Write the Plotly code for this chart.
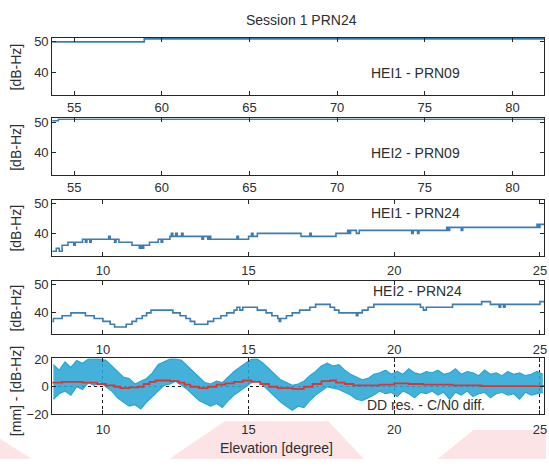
import plotly.graph_objects as go

W, H = 549, 467

# ---- data -------------------------------------------------------------
# C/N0 step records, [dB-Hz]; each level holds until the next change point
hei1_prn09_x = [53.75, 59.0, 81.8]
hei1_prn09_y = [50, 51, 51]

hei2_prn09_x = [53.75, 54.1, 81.8]
hei2_prn09_y = [50.5, 51, 51]

hei1_prn24_x = [8.26, 8.4, 8.5, 8.6, 8.8, 9.0, 9.05, 9.3, 9.4, 9.45, 9.55, 9.6,
                10.2, 10.25, 10.4, 10.45, 10.55, 11.0, 11.25, 11.3, 11.35, 11.4,
                11.6, 11.9, 12.0, 12.05, 12.3, 12.35, 12.4, 12.5, 12.55, 12.7,
                12.75, 13.4, 13.45, 13.6, 13.65, 13.7, 14.6, 14.65, 15.0, 15.1,
                15.15, 15.3, 16.8, 17.1, 17.15, 18.0, 18.4, 18.45, 18.5, 18.7,
                18.8, 20.6, 20.65, 20.8, 20.85, 21.8, 21.85, 21.9, 22.3, 22.35,
                24.9, 24.95, 25.0, 25.14]
hei1_prn24_y = [34, 35, 34, 36, 37, 36, 37, 38, 37, 38, 37, 38,
                39, 38, 37, 38, 37, 36, 35, 36, 35, 36,
                37, 38, 37, 38, 39, 40, 39, 40, 39, 40,
                39, 38, 39, 38, 39, 38, 39, 38, 39, 40,
                39, 40, 39, 40, 39, 40, 41, 40, 41, 40,
                41, 40, 41, 40, 41, 42, 41, 42, 41, 42,
                43, 42, 43, 43]

hei2_prn24_x = [8.26, 8.3, 8.6, 8.9, 9.4, 9.7, 10.0, 10.25, 10.4, 10.8, 11.0,
                11.15, 11.35, 11.5, 11.65, 12.4, 12.65, 12.85, 13.0, 13.15, 13.6,
                13.8, 14.05, 14.25, 14.5, 14.6, 14.7, 14.8, 15.3, 15.6, 15.8, 16.0,
                16.05, 16.1, 16.3, 16.5, 16.75, 17.1, 17.3, 17.8, 17.95, 18.1,
                18.7, 18.75, 18.9, 19.1, 19.3, 20.9, 21.0, 21.1, 22.0, 23.0, 23.3,
                23.6, 23.65, 23.75, 23.8, 25.0, 25.14]
hei2_prn24_y = [37, 38, 39, 40, 39, 38, 37, 36, 35, 36, 37,
                38, 39, 40, 41, 40, 39, 38, 37, 36, 37,
                38, 39, 40, 41, 42, 41, 42, 41, 40, 39, 38,
                37, 38, 39, 40, 41, 42, 43, 42, 41, 40,
                39, 40, 41, 42, 43, 42, 41, 42, 43, 44, 43,
                42, 43, 42, 43, 44, 44]

# double-difference residual spread [mm]: upper / lower extent per elevation
dd_x = [8.3, 8.5, 8.7, 8.9, 9.1, 9.3, 9.5, 9.7, 9.9, 10.1, 10.3, 10.5, 10.7,
        10.9, 11.1, 11.3, 11.5, 11.7, 11.9, 12.1, 12.3, 12.5, 12.7, 12.9, 13.1,
        13.3, 13.5, 13.7, 13.9, 14.1, 14.3, 14.5, 14.7, 14.9, 15.1, 15.3, 15.5,
        15.7, 15.9, 16.1, 16.3, 16.5, 16.7, 16.9, 17.1, 17.3, 17.5, 17.7, 17.9,
        18.1, 18.3, 18.5, 18.7, 18.9, 19.1, 19.3, 19.5, 19.7, 19.9, 20.1, 20.3,
        20.5, 20.7, 20.9, 21.1, 21.3, 21.5, 21.7, 21.9, 22.1, 22.3, 22.5, 22.7,
        22.9, 23.1, 23.3, 23.5, 23.7, 23.9, 24.1, 24.3, 24.5, 24.7, 24.9, 25.1]
dd_hi = [16, 12, 18, 14, 19, 17, 20, 20, 20, 19, 15, 11, 7,
         6, 2, 4, 6, 10, 16, 18, 20, 20, 19, 15, 11,
         7, 3, 2, 4, 3, 7, 11, 14, 17, 20, 20, 17,
         13, 9, 5, 3, 1, 2, 4, 8, 11, 15, 17, 15,
         16, 12, 9, 7, 5, 6, 9, 10, 12, 9, 11, 9,
         13, 10, 9, 11, 10, 12, 9, 10, 13, 9, 11, 10,
         8, 12, 9, 10, 8, 11, 9, 10, 8, 9, 11, 9]
dd_lo = [-9, -5, -3, -6, 0, -2, 3, 1, 4, 0, -3, -8, -11,
         -14, -13, -16, -11, -7, -3, 1, 2, 4, 1, -2, -6,
         -10, -12, -14, -12, -15, -10, -6, -3, 0, 3, 5, 1,
         -3, -7, -11, -14, -17, -14, -15, -10, -6, -3, 0, -1,
         -2, -4, -6, -9, -10, -8, -6, -3, -5, -4, -7, -3,
         -5, -8, -4, -5, -3, -6, -4, -9, -4, -6, -3, -7,
         -5, -4, -8, -5, -4, -6, -5, -9, -4, -6, -5, -4]

# C/N0 difference curve
cn0_x = [8.26, 8.6, 9.3, 9.8, 10.1, 10.4, 10.6, 10.9, 11.2, 11.4, 11.6, 11.8,
         12.3, 12.6, 12.8, 13.0, 13.3, 13.6, 13.9, 14.2, 14.5, 14.8, 15.1, 15.4,
         15.7, 16.0, 16.5, 16.9, 17.2, 17.5, 17.8, 18.0, 18.3, 18.6, 19.0, 19.5,
         20.0, 20.5, 21.0, 22.0, 23.0, 24.0, 25.14]
cn0_y = [3, 3.5, 3, 2, 1, 0, -1, -0.5, 0, 2, 3.5, 4.5,
         4, 3, 1.5, 0, -1, 0, 1.5, 2.5, 3.5, 4.5, 3.5, 2,
         0, -1, -1.5, 0, 2, 4, 4.5, 3, 2, 1, 1, 1.5,
         2.5, 2, 1.5, 1, 0.5, 0.5, 1]

ticks_hi = [55, 60, 65, 70, 75, 80]
ticks_lo = [10, 15, 20, 25]

# ---- layout helpers ---------------------------------------------------
def px(x):
    return x / W

def py(y):
    return 1 - y / H

X0, X1 = 52.5, 547
panels = [(32, 91), (115, 174), (199, 257), (283, 338), (363, 421)]

FONT = "Liberation Sans, Arial, sans-serif"
TXT = "#2e2e2e"
AX = "#262626"
STEP_BLUE = "#3b7db3"
DD_BLUE = "#2aa6d6"

fig = go.Figure()

step_sets = [(hei1_prn09_x, hei1_prn09_y), (hei2_prn09_x, hei2_prn09_y),
             (hei1_prn24_x, hei1_prn24_y), (hei2_prn24_x, hei2_prn24_y)]
for i, (sx, sy) in enumerate(step_sets, start=1):
    fig.add_trace(go.Scatter(x=sx, y=sy, mode="lines", line_shape="hv",
                             line=dict(color=STEP_BLUE, width=1.6),
                             xaxis=f"x{i}", yaxis=f"y{i}", showlegend=False))

# residual spread as a filled band
fig.add_trace(go.Scatter(x=dd_x, y=dd_lo, mode="lines",
                         line=dict(color=DD_BLUE, width=1.2),
                         xaxis="x5", yaxis="y5", showlegend=False))
fig.add_trace(go.Scatter(x=dd_x, y=dd_hi, mode="lines", fill="tonexty",
                         fillcolor="rgba(42,166,214,0.88)",
                         line=dict(color=DD_BLUE, width=1.2),
                         xaxis="x5", yaxis="y5", showlegend=False))
fig.add_trace(go.Scatter(x=cn0_x, y=cn0_y, mode="lines", line_shape="hv",
                         line=dict(color="#e3322e", width=1.8),
                         xaxis="x5", yaxis="y5", showlegend=False))

axis_common = dict(showline=True, linecolor=AX, linewidth=1, mirror="ticks",
                   ticks="inside", ticklen=4, tickcolor=AX, zeroline=False,
                   tickfont=dict(family=FONT, size=13, color=TXT))

layout = dict(width=W, height=H, margin=dict(l=0, r=0, t=0, b=0),
              paper_bgcolor="white", plot_bgcolor="white", showlegend=False)

for i, (top, bot) in enumerate(panels, start=1):
    xa = dict(axis_common, domain=[px(X0), px(X1)], anchor=f"y{i}",
              showgrid=False, ticklabeloverflow="allow")
    ya = dict(axis_common, domain=[py(bot), py(top)], anchor=f"x{i}",
              showgrid=False)
    if i <= 2:
        xa.update(range=[53.75, 81.8], tickvals=ticks_hi)
    else:
        xa.update(range=[8.26, 25.14], tickvals=ticks_lo,
                  ticklabelstandoff=3)
    if i <= 4:
        ya.update(range=[32.5, 51.3], tickvals=[40, 50])
    else:
        ya.update(range=[-20, 20.5], tickvals=[-20, 0, 20])
        xa.update(showgrid=True, gridcolor="#1a1a1a", griddash="dot",
                  gridwidth=1)
        ya.update(showgrid=True, gridcolor="#1a1a1a", griddash="dot",
                  gridwidth=1)
    layout[f"xaxis{i}"] = xa
    layout[f"yaxis{i}"] = ya

fig.update_layout(**layout)

# faint pink print marks along the bottom edge of the page (pixel outlines)
pink = "#fce3e6"
marks = [
    [(0, 446), (32, 467), (0, 467)],
    [(170, 467), (226, 428), (330, 428), (366, 467)],
    [(440, 467), (476, 437), (549, 437), (549, 467)],
]
shape_list = []
for pts in marks:
    path = "M " + " L ".join(f"{px(x):.4f},{py(y):.4f}" for x, y in pts) + " Z"
    shape_list.append(dict(type="path", xref="paper", yref="paper",
                           layer="below", path=path,
                           fillcolor=pink, line=dict(width=0)))
fig.update_layout(shapes=shape_list)

ann = []

def label(text, x, y, size=14, angle=0):
    ann.append(dict(text=text, x=px(x), y=py(y), xref="paper", yref="paper",
                    showarrow=False, textangle=angle, xanchor="center",
                    yanchor="middle",
                    font=dict(family=FONT, size=size, color=TXT)))

label("Session 1 PRN24", 303, 13, size=14)
label("HEI1 - PRN09", 418, 68)
label("HEI2 - PRN09", 418, 151)
label("HEI1 - PRN24", 418, 213)
label("HEI2 - PRN24", 420, 293)
label("DD res. - C/N0 diff.", 428, 411)
label("Elevation [degree]", 278, 456)
for top, bot in panels[:4]:
    label("[dB-Hz]", 16, (top + bot) / 2, angle=-90)
label("[mm] - [dB-Hz]", 16, 397, angle=-90)

fig.update_layout(annotations=ann)
fig.write_html("out.html")
